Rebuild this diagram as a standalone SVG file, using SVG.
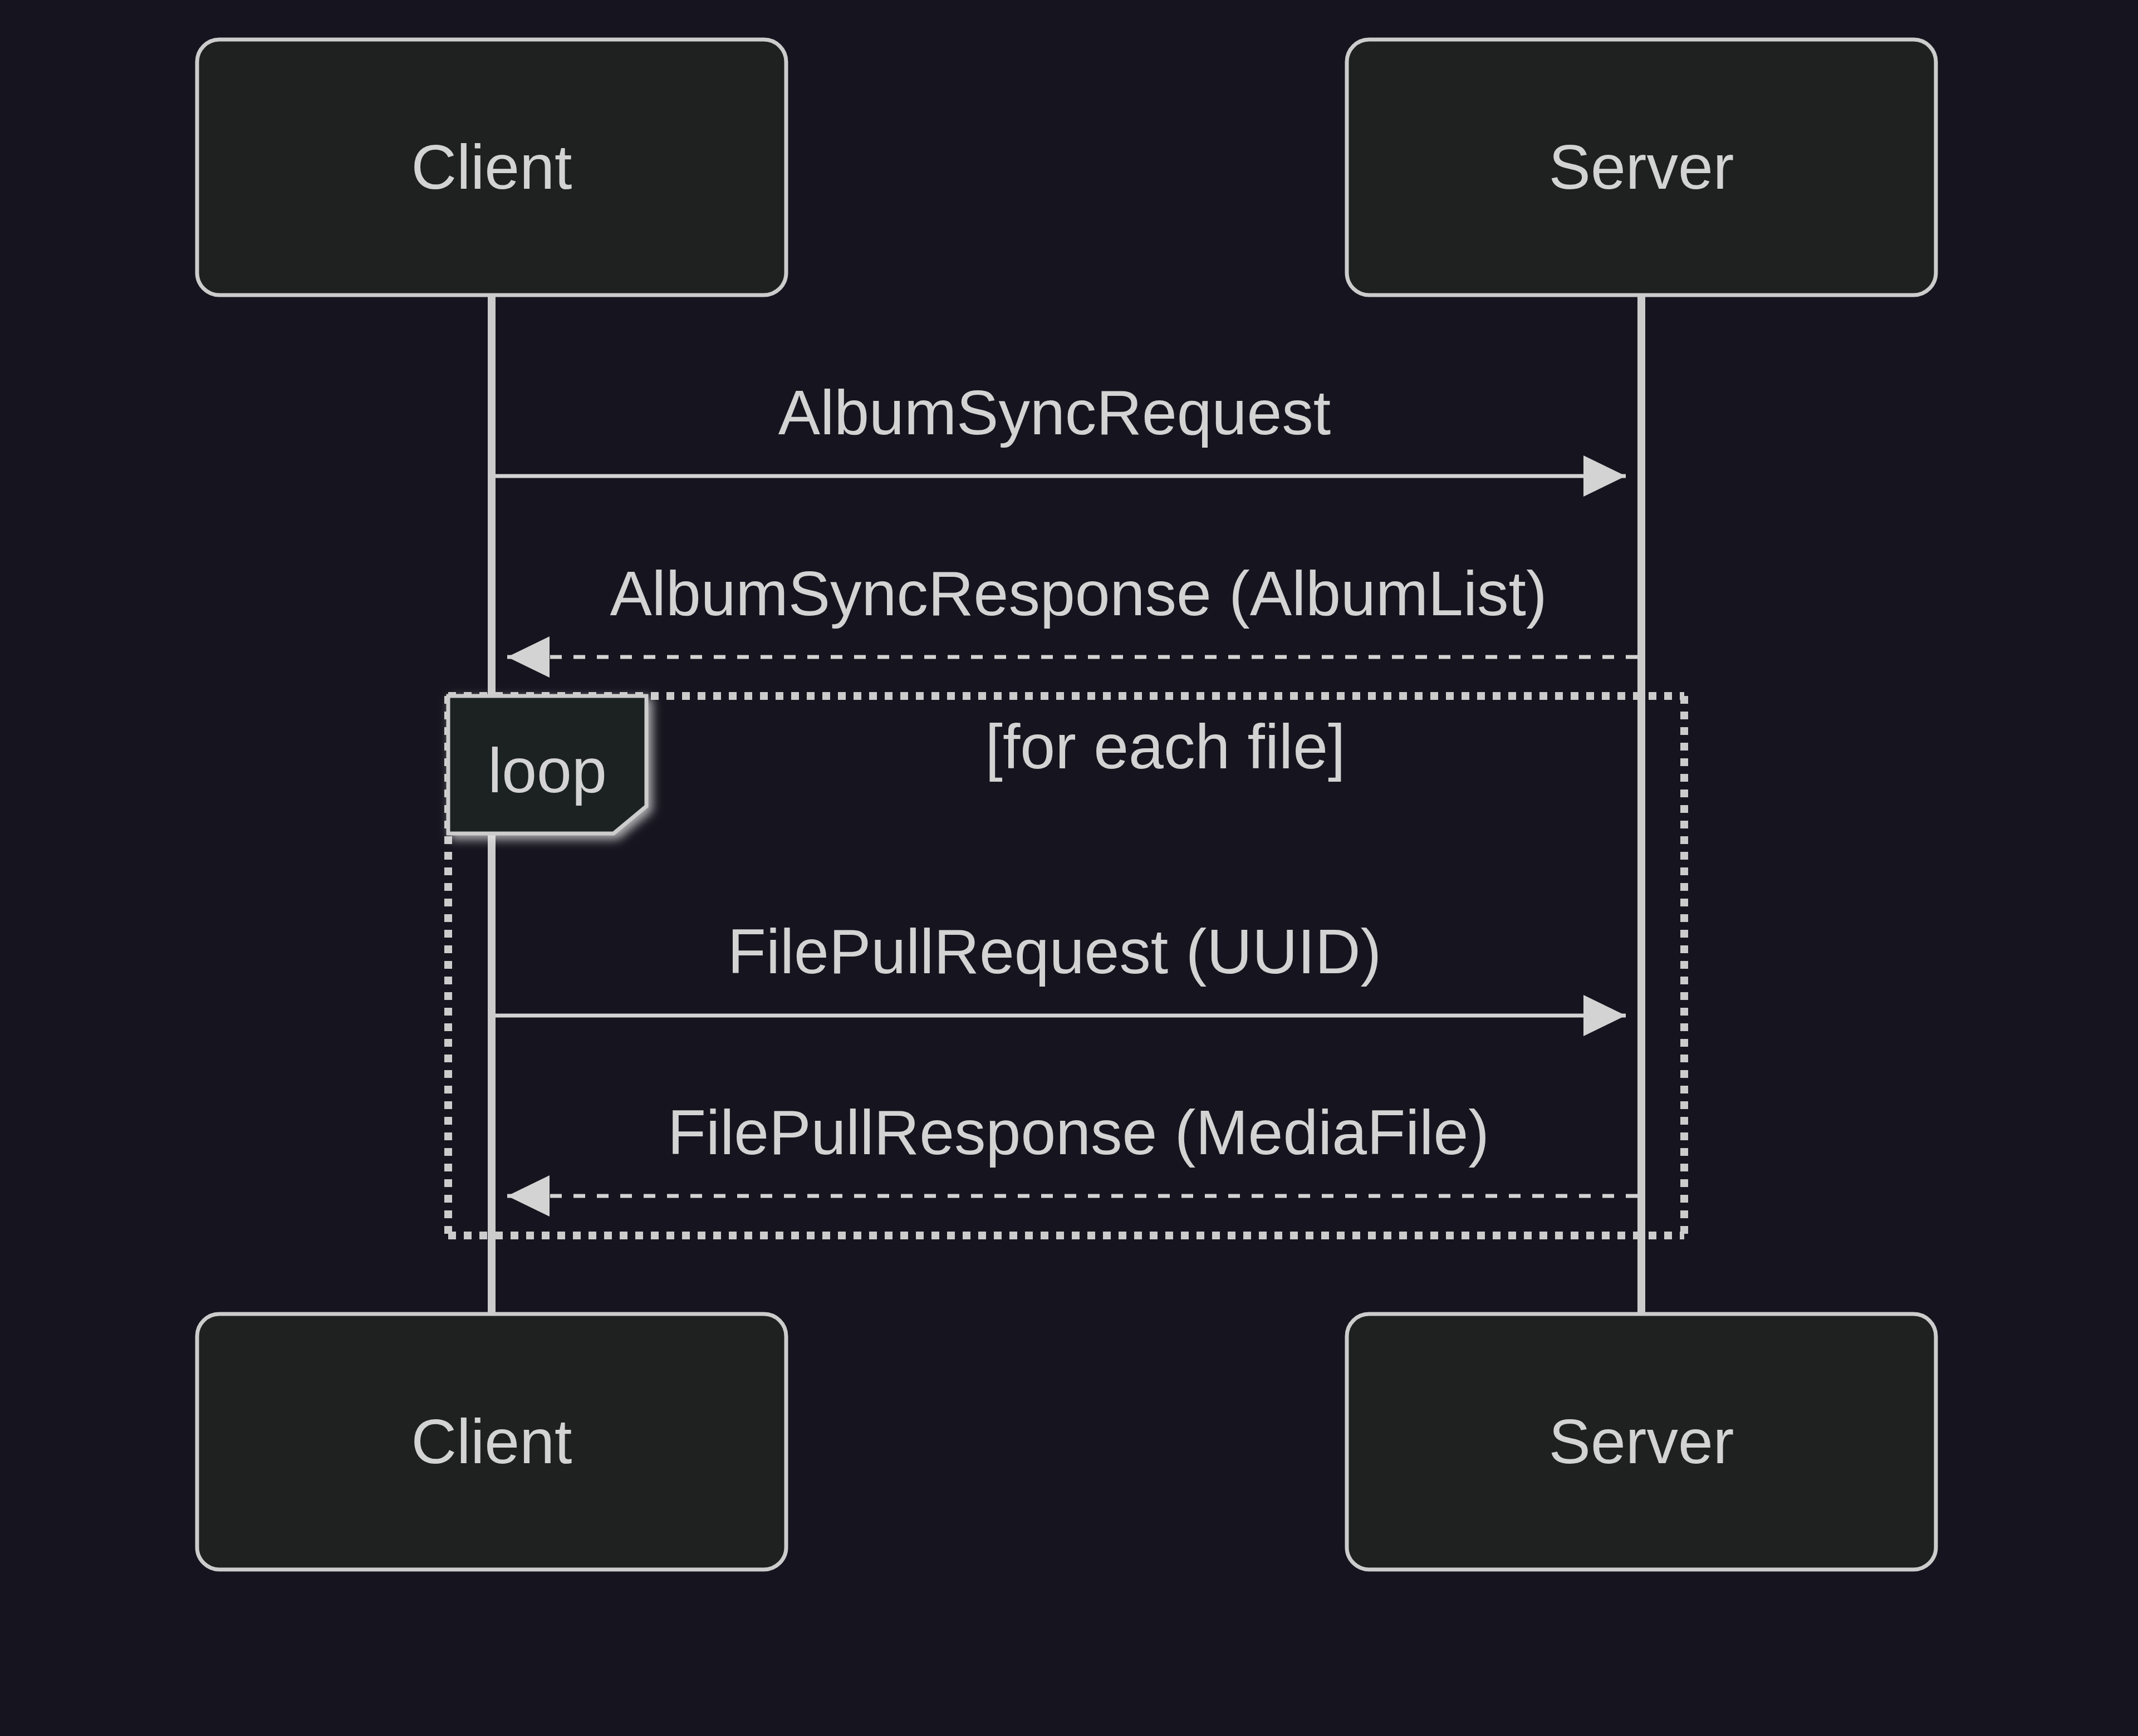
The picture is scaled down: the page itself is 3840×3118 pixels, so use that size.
<svg xmlns="http://www.w3.org/2000/svg" width="3840" height="3118" viewBox="0 0 3840 3118">
<style>
.actor{fill:#1f2020;stroke:#cccccc;stroke-width:7}
.atext{fill:#d3d3d3;font-family:"Liberation Sans",Arial,sans-serif;font-size:113px;text-anchor:middle}
.life{stroke:#cccccc;stroke-width:14}
.msg{stroke:#d3d3d3;stroke-width:7;fill:none}
.dash{stroke-dasharray:21 21}
.mtext{fill:#d3d3d3;font-family:"Liberation Sans",Arial,sans-serif;font-size:113px;text-anchor:middle}
.loopline{stroke:#cccccc;stroke-width:14;stroke-dasharray:14 14;fill:none}
.lbox{fill:#1f2020;stroke:#cccccc;stroke-width:7}
</style>
<defs>
<marker id="arrow" markerUnits="userSpaceOnUse" markerWidth="78" markerHeight="76" refX="76" refY="37" orient="auto" viewBox="0 0 78 76">
<path d="M0,0 L76,37 L0,74 Z" fill="#d3d3d3"/>
</marker>
<filter id="glow" x="-30%" y="-30%" width="160%" height="160%">
<feDropShadow dx="7" dy="7" stdDeviation="9" flood-color="#e8e8e8" flood-opacity="0.75"/>
</filter>
</defs>
<rect x="0" y="0" width="3840" height="3118" fill="#16151f"/>
<g id="lifelines">
<line class="life" x1="883" y1="530" x2="883" y2="2360"/>
<line class="life" x1="2948" y1="530" x2="2948" y2="2360"/>
</g>
<g id="actor-client-top">
<rect class="actor" x="354" y="71" width="1058" height="459" rx="40" ry="40"/>
<text class="atext" x="883" y="339">Client</text>
</g>
<g id="actor-server-top">
<rect class="actor" x="2419" y="71" width="1058" height="459" rx="40" ry="40"/>
<text class="atext" x="2948" y="339">Server</text>
</g>
<g id="actor-client-bottom">
<rect class="actor" x="354" y="2360" width="1058" height="459" rx="40" ry="40"/>
<text class="atext" x="883" y="2628">Client</text>
</g>
<g id="actor-server-bottom">
<rect class="actor" x="2419" y="2360" width="1058" height="459" rx="40" ry="40"/>
<text class="atext" x="2948" y="2628">Server</text>
</g>
<g id="loop">
<line class="loopline" x1="805" y1="1250" x2="3025" y2="1250"/>
<line class="loopline" x1="3025" y1="1250" x2="3025" y2="2219"/>
<line class="loopline" x1="805" y1="2219" x2="3025" y2="2219"/>
<line class="loopline" x1="805" y1="1250" x2="805" y2="2219"/>
<polygon class="lbox" filter="url(#glow)" points="805,1250 1161,1250 1161,1448 1102,1497 805,1497"/>
<text class="mtext" x="983" y="1423">loop</text>
<text class="mtext" x="2093" y="1380">[for each file]</text>
</g>
<g id="connectors">
<line class="msg" x1="890" y1="855" x2="2920" y2="855" marker-end="url(#arrow)"/>
<text class="mtext" x="1894" y="780">AlbumSyncRequest</text>
<line class="msg dash" x1="2941" y1="1180" x2="911" y2="1180" marker-end="url(#arrow)"/>
<text class="mtext" x="1937" y="1105">AlbumSyncResponse (AlbumList)</text>
<line class="msg" x1="890" y1="1824" x2="2920" y2="1824" marker-end="url(#arrow)"/>
<text class="mtext" x="1894" y="1748">FilePullRequest (UUID)</text>
<line class="msg dash" x1="2941" y1="2148" x2="911" y2="2148" marker-end="url(#arrow)"/>
<text class="mtext" x="1937" y="2073">FilePullResponse (MediaFile)</text>
</g>
</svg>
